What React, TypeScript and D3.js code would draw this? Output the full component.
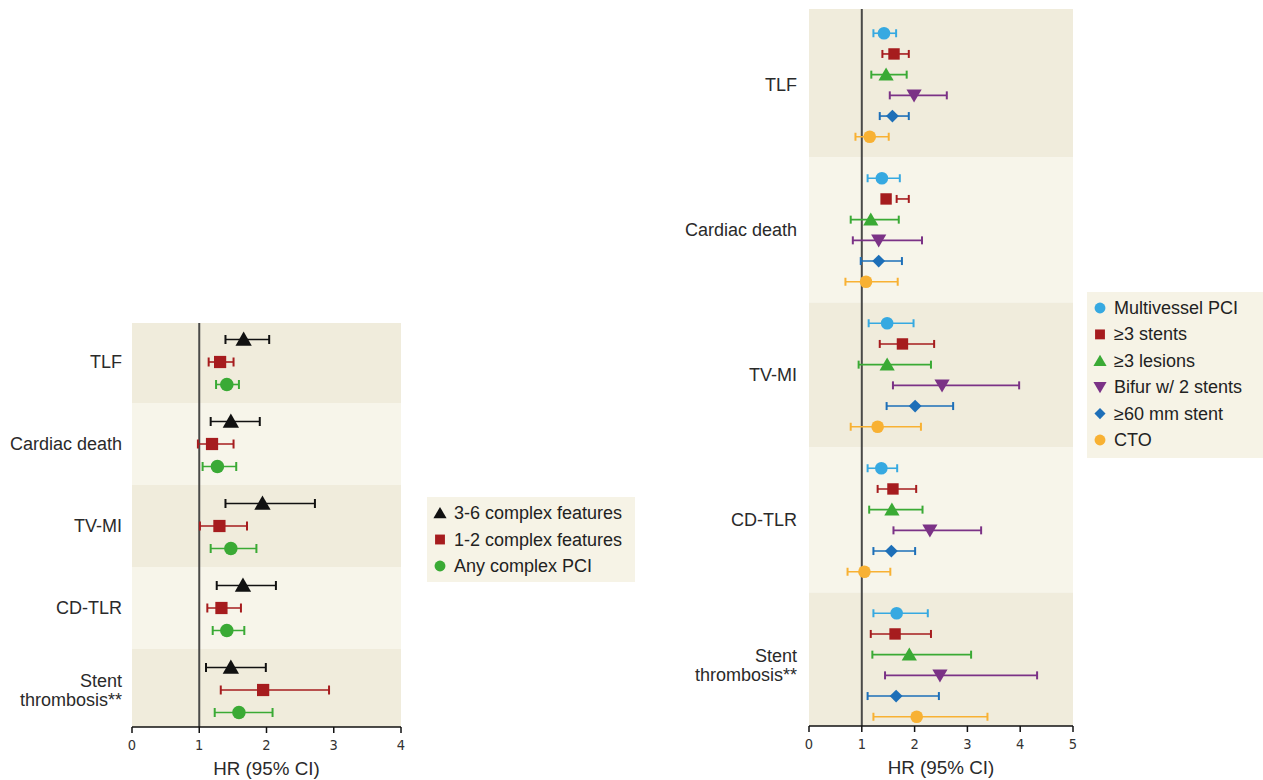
import React from "react";
import * as d3 from "d3";

// ---------- data ----------
const categories = ["TLF", "Cardiac death", "TV-MI", "CD-TLR", "Stent thrombosis**"];

// Left panel
const leftSeries = ["3-6 complex features", "1-2 complex features", "Any complex PCI"];
const leftHR = [
  [1.66, 1.47, 1.94, 1.65, 1.47],
  [1.31, 1.19, 1.30, 1.33, 1.95],
  [1.41, 1.27, 1.47, 1.41, 1.59],
];
const leftLo = [
  [1.39, 1.17, 1.39, 1.26, 1.10],
  [1.14, 0.98, 1.01, 1.12, 1.32],
  [1.25, 1.05, 1.17, 1.20, 1.23],
];
const leftHi = [
  [2.04, 1.90, 2.72, 2.14, 1.99],
  [1.51, 1.51, 1.71, 1.62, 2.93],
  [1.59, 1.55, 1.85, 1.67, 2.09],
];
const leftTicks = [0, 1, 2, 3, 4];

// Right panel
const rightSeries = ["Multivessel PCI", "≥3 stents", "≥3 lesions", "Bifur w/ 2 stents", "≥60 mm stent", "CTO"];
const rightHR = [
  [1.42, 1.38, 1.48, 1.37, 1.66],
  [1.61, 1.46, 1.77, 1.59, 1.63],
  [1.46, 1.17, 1.48, 1.57, 1.90],
  [1.99, 1.32, 2.52, 2.29, 2.48],
  [1.58, 1.32, 2.01, 1.56, 1.65],
  [1.15, 1.08, 1.30, 1.05, 2.04],
];
const rightLo = [
  [1.22, 1.11, 1.13, 1.11, 1.22],
  [1.39, 1.66, 1.34, 1.30, 1.17],
  [1.18, 0.79, 0.94, 1.14, 1.20],
  [1.53, 0.83, 1.59, 1.60, 1.44],
  [1.34, 0.98, 1.47, 1.22, 1.11],
  [0.88, 0.69, 0.79, 0.73, 1.22],
];
const rightHi = [
  [1.65, 1.72, 1.98, 1.67, 2.25],
  [1.89, 1.89, 2.37, 2.03, 2.31],
  [1.85, 1.70, 2.31, 2.15, 3.07],
  [2.61, 2.14, 3.98, 3.26, 4.32],
  [1.89, 1.76, 2.73, 2.01, 2.46],
  [1.51, 1.68, 2.12, 1.54, 3.38],
];
const rightTicks = [0, 1, 2, 3, 4, 5];

// ---------- styles ----------
const leftColors = ["#111111", "#a61c1e", "#3aaa35"];
const leftShapes = ["triangle", "square", "circle"];
const rightColors = ["#36a9e1", "#a61c1e", "#3aaa35", "#7b3286", "#1d6fb8", "#f8b133"];
const rightShapes = ["circle", "square", "triangle", "triangleDown", "diamond", "circle"];

const BAND_DARK = "#f0ecdc";
const BAND_LIGHT = "#f7f5ea";
const LEGEND_BG = "#f6f3e6";
const FONT = "'Liberation Sans', Arial, sans-serif";
const NARROW = "'Liberation Sans Narrow', 'DejaVu Sans Condensed', 'Liberation Sans', sans-serif";

function symbolPath(shape: string, scale: number) {
  let t: any = d3.symbolCircle;
  let size = 125;
  if (shape === "triangle" || shape === "triangleDown") { t = d3.symbolTriangle; size = 100; }
  if (shape === "square") { t = d3.symbolSquare; size = 130; }
  if (shape === "diamond") { t = d3.symbolSquare; size = 82; }
  return d3.symbol().type(t).size(size * scale)() as string;
}

function Marker({ shape, x, y, color, scale = 1 }: any) {
  const rot = shape === "triangleDown" ? 180 : shape === "diamond" ? 45 : 0;
  const dy = shape === "triangle" ? 1.5 : shape === "triangleDown" ? -1.5 : 0;
  return (
    <path
      d={symbolPath(shape, scale)}
      transform={`translate(${x},${y + dy}) rotate(${rot})`}
      fill={color}
    />
  );
}

function Panel({
  x0, x1, y0, y1, c0, c1, domainMax, ticks, series, hr, lo, hi, colors, shapes, rowStep, labelX, markerScale, capH,
}: any) {
  const x = d3.scaleLinear().domain([0, domainMax]).range([x0, x1]);
  const yc = d3.scalePoint().domain(categories).range([c0, c1]);
  const step = yc.step();
  const n = series.length;
  const bandTop = (i: number) => (i === 0 ? y0 : (yc(categories[i]) as number) - step / 2);
  const bandBot = (i: number) => (i === categories.length - 1 ? y1 : (yc(categories[i]) as number) + step / 2);
  return (
    <g>
      {categories.map((c, i) => (
        <rect key={c} x={x0} y={bandTop(i)} width={x1 - x0} height={bandBot(i) - bandTop(i)} fill={i % 2 === 0 ? BAND_DARK : BAND_LIGHT} />
      ))}
      <line x1={x(1)} x2={x(1)} y1={y0} y2={y1} stroke="#4a4a48" strokeWidth={2} />
      {categories.map((c) => {
        const cy = yc(c) as number;
        const lines = c === "Stent thrombosis**" ? ["Stent", "thrombosis**"] : [c];
        return (
          <text key={c} x={labelX} y={cy - (lines.length - 1) * 9.5} textAnchor="end" fontFamily={FONT} fontSize={18} fill="#2a2a2a" dominantBaseline="central">
            {lines.map((l, li) => (
              <tspan key={l} x={labelX} dy={li === 0 ? 0 : 19}>{l}</tspan>
            ))}
          </text>
        );
      })}
      {categories.map((c, ci) =>
        series.map((s: string, si: number) => {
          const cy = (yc(c) as number) + (si - (n - 1) / 2) * rowStep;
          const col = colors[si];
          return (
            <g key={c + s}>
              <line x1={x(lo[si][ci])} x2={x(hi[si][ci])} y1={cy} y2={cy} stroke={col} strokeWidth={1.6} />
              <line x1={x(lo[si][ci])} x2={x(lo[si][ci])} y1={cy - capH} y2={cy + capH} stroke={col} strokeWidth={2} />
              <line x1={x(hi[si][ci])} x2={x(hi[si][ci])} y1={cy - capH} y2={cy + capH} stroke={col} strokeWidth={2} />
              <Marker shape={shapes[si]} x={x(hr[si][ci])} y={cy} color={col} scale={markerScale} />
            </g>
          );
        })
      )}
      <line x1={x0} x2={x1} y1={y1} y2={y1} stroke="#111" strokeWidth={1.5} />
      {ticks.map((t: number) => (
        <g key={t}>
          <line x1={x(t)} x2={x(t)} y1={y1} y2={y1 + 6} stroke="#111" strokeWidth={1.5} />
          <text x={x(t)} y={y1 + 23} textAnchor="middle" fontFamily={NARROW} fontSize={14.5} fill="#333">{t}</text>
        </g>
      ))}
      <text x={(x0 + x1) / 2} y={y1 + 48} textAnchor="middle" fontFamily={FONT} fontSize={18.8} fill="#2a2a2a">HR (95% CI)</text>
    </g>
  );
}

function Legend({ x, y, w, h, series, colors, shapes, step, first }: any) {
  return (
    <g>
      <rect x={x} y={y} width={w} height={h} fill={LEGEND_BG} />
      {series.map((s: string, i: number) => (
        <g key={s}>
          <Marker shape={shapes[i]} x={x + 13} y={y + first + i * step} color={colors[i]} scale={0.75} />
          <text x={x + 27} y={y + first + i * step} dominantBaseline="central" fontFamily={FONT} fontSize={18} fill="#222">{s}</text>
        </g>
      ))}
    </g>
  );
}

export default function App() {
  return (
    <svg width={1263} height={780} style={{ position: "absolute", left: 0, top: 0, background: "#fff" }}>
      <Panel
        x0={132} x1={401} y0={323} y1={727} c0={362} c1={690} domainMax={4} ticks={leftTicks}
        series={leftSeries} hr={leftHR} lo={leftLo} hi={leftHi}
        colors={leftColors} shapes={leftShapes} rowStep={22.5} labelX={122} markerScale={1.15} capH={4.5}
      />
      <Legend x={427} y={497} w={208} h={85} series={leftSeries} colors={leftColors} shapes={leftShapes} step={26.5} first={16} />
      <Panel
        x0={809} x1={1073} y0={9} y1={726} c0={85} c1={665} domainMax={5} ticks={rightTicks}
        series={rightSeries} hr={rightHR} lo={rightLo} hi={rightHi}
        colors={rightColors} shapes={rightShapes} rowStep={20.7} labelX={797} markerScale={1} capH={4}
      />
      <Legend x={1087} y={292} w={176} h={166} series={rightSeries} colors={rightColors} shapes={rightShapes} step={26.4} first={16} />
    </svg>
  );
}
